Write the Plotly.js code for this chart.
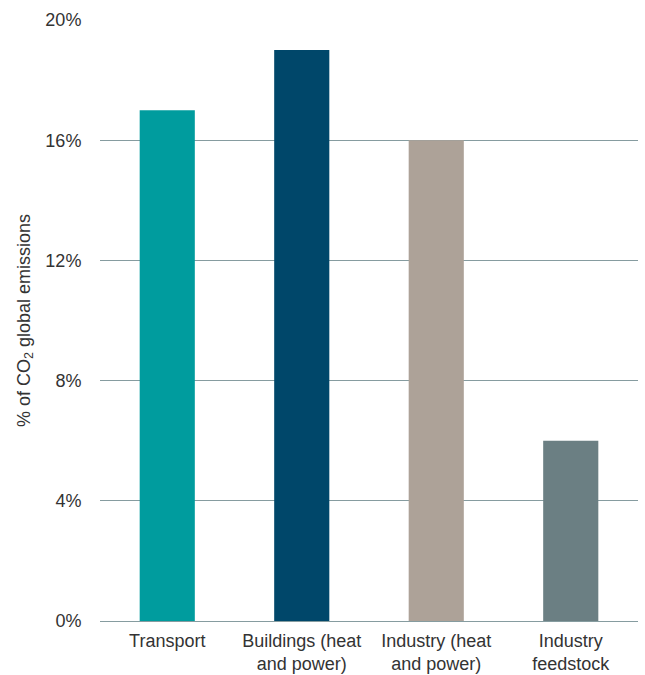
<!DOCTYPE html>
<html>
<head>
<meta charset="utf-8">
<script src="https://cdn.plot.ly/plotly-3.0.1.min.js"></script>
<style>
  html, body { margin: 0; padding: 0; background: #fff; }
  #chart { width: 645px; height: 675px; }
</style>
</head>
<body>
<div id="chart"></div>
<script>
const categories = ["Transport", "Buildings (heat<br>and power)", "Industry (heat<br>and power)", "Industry<br>feedstock"];
const values = [17, 19, 16, 6];
const barColors = ["#009C9E", "#00476A", "#ADA298", "#6B7F83"];
const yTickVals = [0, 4, 8, 12, 16, 20];
const yTickText = ["0%", "4%", "8%", "12%", "16%", "20%"];

const font = { family: "'Liberation Sans', Arimo, Arial, sans-serif", size: 18, color: "#333333" };

Plotly.newPlot("chart", [{
  type: "bar",
  x: categories,
  y: values,
  marker: { color: barColors, line: { width: 0 } },
  hoverinfo: "x+y"
}], {
  width: 645,
  height: 675,
  margin: { l: 100, r: 7, t: 20, b: 54 },
  paper_bgcolor: "#ffffff",
  plot_bgcolor: "#ffffff",
  font: font,
  bargap: 0.59,
  showlegend: false,
  xaxis: {
    tickfont: font,
    showgrid: false,
    showline: false,
    zeroline: false,
    ticks: "outside",
    ticklen: 3,
    tickcolor: "rgba(0,0,0,0)",
    automargin: false,
    fixedrange: true
  },
  yaxis: {
    range: [0, 20],
    tickvals: yTickVals,
    ticktext: yTickText,
    tickfont: font,
    ticks: "outside",
    ticklen: 14,
    tickcolor: "rgba(0,0,0,0)",
    showgrid: true,
    gridcolor: "#869CA0",
    gridwidth: 1,
    zeroline: true,
    zerolinecolor: "#869CA0",
    zerolinewidth: 1,
    showline: false,
    automargin: false,
    title: { text: "% of CO<sub>2</sub> global emissions", font: font, standoff: 10 },
    fixedrange: true
  }
}, { displayModeBar: false, staticPlot: true });
</script>
</body>
</html>
